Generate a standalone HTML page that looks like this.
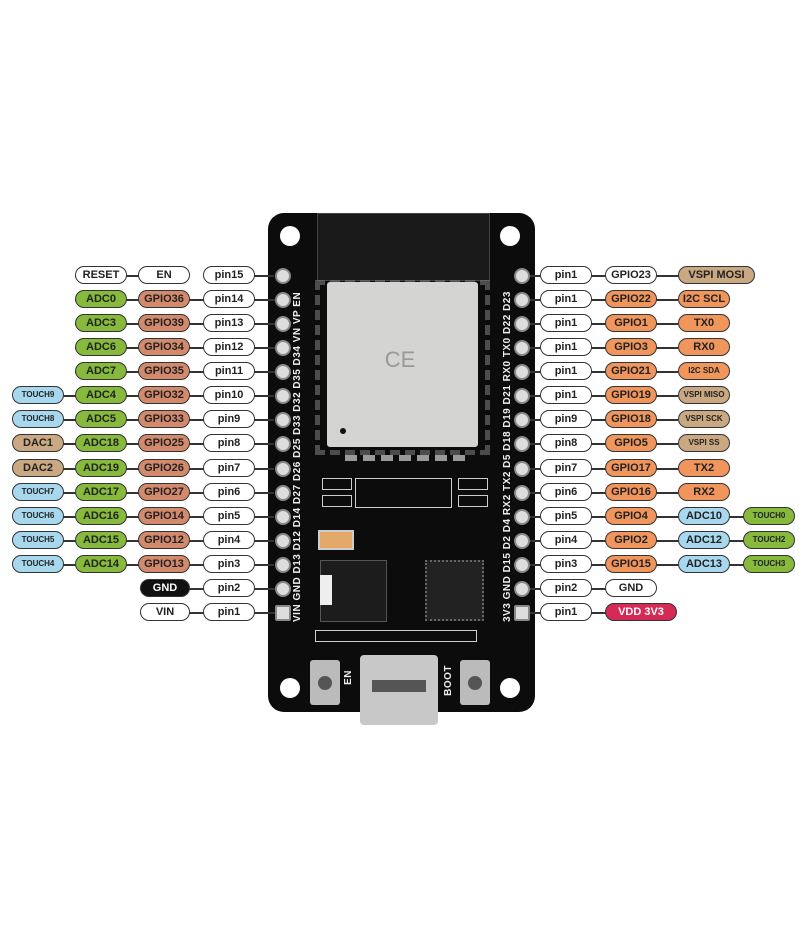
<!DOCTYPE html>
<html><head><style>
body{margin:0;width:800px;height:930px;background:#fff;position:relative;overflow:hidden;font-family:"Liberation Sans",sans-serif}
.p{position:absolute;height:16px;border:1.5px solid #333;border-radius:9px;font-size:11px;font-weight:bold;line-height:16px;text-align:center;color:#222;background:#fff;box-sizing:content-box}
.w{background:#fff}.g{background:#86b93c}.o{background:#d38a6c}.r{background:#f0955c}.t{background:#c9a882}.b{background:#a8d8ee;font-size:8px}.k{background:#111;color:#fff}.m{background:#d52a55;color:#fff}
.s{font-size:8px}
.ln{position:absolute;height:1.5px;background:#333}
.hole{position:absolute;width:20px;height:20px;border-radius:50%;background:#fff}
.pin{position:absolute;width:12px;height:12px;border-radius:50%;background:#ddd;border:2px solid #888}
.vt{position:absolute;color:#eee;font-size:10px;font-weight:bold;writing-mode:vertical-rl;transform:rotate(180deg);white-space:nowrap;letter-spacing:0.5px}
</style></head><body>
<!-- board -->
<div style="position:absolute;left:268px;top:213px;width:267px;height:499px;background:#0c0c0c;border-radius:16px"></div>
<div style="position:absolute;left:317px;top:213px;width:171px;height:66px;background:#1a1a1a;border:1px solid #444"></div>
<div style="position:absolute;left:315px;top:280px;width:175px;height:175px;border:5px dashed #777;box-sizing:border-box;opacity:.6"></div>
<div style="position:absolute;left:327px;top:282px;width:151px;height:165px;background:#d4d4d2;border-radius:3px"></div>
<div style="position:absolute;left:340px;top:428px;width:6px;height:6px;border-radius:50%;background:#111"></div>
<div style="position:absolute;left:350px;top:325px;width:100px;height:70px;color:#999;font-size:22px;text-align:center;line-height:70px">CE</div>
<div style="position:absolute;left:345px;top:455px;width:120px;height:8px;border-top:6px dashed #999"></div>
<div style="position:absolute;left:322px;top:478px;width:28px;height:10px;border:1px solid #ccc"></div>
<div style="position:absolute;left:322px;top:495px;width:28px;height:10px;border:1px solid #ccc"></div>
<div style="position:absolute;left:355px;top:478px;width:95px;height:28px;border:1px solid #ccc"></div>
<div style="position:absolute;left:458px;top:478px;width:28px;height:10px;border:1px solid #ccc"></div>
<div style="position:absolute;left:458px;top:495px;width:28px;height:10px;border:1px solid #ccc"></div>
<div style="position:absolute;left:318px;top:530px;width:32px;height:16px;background:#e4a86a;border:2px solid #ccc"></div>
<div style="position:absolute;left:320px;top:560px;width:65px;height:60px;background:#1c1c1c;border:1px solid #555"></div>
<div style="position:absolute;left:320px;top:575px;width:12px;height:30px;background:#eee"></div>
<div style="position:absolute;left:425px;top:560px;width:55px;height:57px;background:#222;border:2px dotted #666"></div>
<div style="position:absolute;left:315px;top:630px;width:160px;height:10px;border:1px solid #ccc"></div>
<div style="position:absolute;left:310px;top:660px;width:30px;height:45px;background:#bbb;border-radius:3px"></div>
<div style="position:absolute;left:318px;top:676px;width:14px;height:14px;background:#555;border-radius:50%"></div>
<div style="position:absolute;left:460px;top:660px;width:30px;height:45px;background:#bbb;border-radius:3px"></div>
<div style="position:absolute;left:468px;top:676px;width:14px;height:14px;background:#555;border-radius:50%"></div>
<div style="position:absolute;left:360px;top:655px;width:78px;height:70px;background:#c8c8c8;border-radius:4px"></div>
<div style="position:absolute;left:372px;top:680px;width:54px;height:12px;background:#555"></div>
<div class="vt" style="left:343px;top:670px">EN</div>
<div class="vt" style="left:443px;top:665px">BOOT</div>
<div class="hole" style="left:280px;top:226px"></div><div class="hole" style="left:500px;top:226px"></div>
<div class="hole" style="left:280px;top:678px"></div><div class="hole" style="left:500px;top:678px"></div>
<div class="vt" style="left:292px;top:262px;height:360px;text-align:left">VIN GND D13 D12 D14 D27 D26 D25 D33 D32 D35 D34 VN VP EN</div>
<div class="vt" style="left:502px;top:262px;height:360px;text-align:left">3V3 GND D15 D2 D4 RX2 TX2 D5 D18 D19 D21 RX0 TX0 D22 D23</div>

<!-- lines -->
<div class="ln" style="left:204px;top:275px;width:70px"></div>
<div class="ln" style="left:75px;top:275px;width:70px"></div>
<div class="ln" style="left:75px;top:299px;width:200px"></div>
<div class="ln" style="left:75px;top:323px;width:200px"></div>
<div class="ln" style="left:75px;top:347px;width:200px"></div>
<div class="ln" style="left:75px;top:371px;width:200px"></div>
<div class="ln" style="left:14px;top:395px;width:260px"></div>
<div class="ln" style="left:14px;top:419px;width:260px"></div>
<div class="ln" style="left:14px;top:443px;width:260px"></div>
<div class="ln" style="left:14px;top:468px;width:260px"></div>
<div class="ln" style="left:14px;top:492px;width:260px"></div>
<div class="ln" style="left:14px;top:516px;width:260px"></div>
<div class="ln" style="left:14px;top:540px;width:260px"></div>
<div class="ln" style="left:14px;top:564px;width:260px"></div>
<div class="ln" style="left:140px;top:588px;width:135px"></div>
<div class="ln" style="left:140px;top:612px;width:135px"></div>
<div class="ln" style="left:528px;top:275px;width:200px"></div>
<div class="ln" style="left:528px;top:299px;width:150px"></div>
<div class="ln" style="left:528px;top:323px;width:150px"></div>
<div class="ln" style="left:528px;top:347px;width:150px"></div>
<div class="ln" style="left:528px;top:371px;width:150px"></div>
<div class="ln" style="left:528px;top:395px;width:150px"></div>
<div class="ln" style="left:528px;top:419px;width:150px"></div>
<div class="ln" style="left:528px;top:443px;width:150px"></div>
<div class="ln" style="left:528px;top:468px;width:150px"></div>
<div class="ln" style="left:528px;top:492px;width:150px"></div>
<div class="ln" style="left:528px;top:516px;width:250px"></div>
<div class="ln" style="left:528px;top:540px;width:250px"></div>
<div class="ln" style="left:528px;top:564px;width:250px"></div>
<div class="ln" style="left:528px;top:588px;width:100px"></div>
<div class="ln" style="left:528px;top:612px;width:100px"></div>

<!-- header pins -->
<div class="pin" style="left:275px;top:268px"></div><div class="pin" style="left:275px;top:292px"></div><div class="pin" style="left:275px;top:316px"></div><div class="pin" style="left:275px;top:340px"></div><div class="pin" style="left:275px;top:364px"></div><div class="pin" style="left:275px;top:388px"></div><div class="pin" style="left:275px;top:412px"></div><div class="pin" style="left:275px;top:436px"></div><div class="pin" style="left:275px;top:461px"></div><div class="pin" style="left:275px;top:485px"></div><div class="pin" style="left:275px;top:509px"></div><div class="pin" style="left:275px;top:533px"></div><div class="pin" style="left:275px;top:557px"></div><div class="pin" style="left:275px;top:581px"></div><div class="pin" style="left:275px;top:605px;border-radius:2px"></div>
<div class="pin" style="left:514px;top:268px"></div><div class="pin" style="left:514px;top:292px"></div><div class="pin" style="left:514px;top:316px"></div><div class="pin" style="left:514px;top:340px"></div><div class="pin" style="left:514px;top:364px"></div><div class="pin" style="left:514px;top:388px"></div><div class="pin" style="left:514px;top:412px"></div><div class="pin" style="left:514px;top:436px"></div><div class="pin" style="left:514px;top:461px"></div><div class="pin" style="left:514px;top:485px"></div><div class="pin" style="left:514px;top:509px"></div><div class="pin" style="left:514px;top:533px"></div><div class="pin" style="left:514px;top:557px"></div><div class="pin" style="left:514px;top:581px"></div><div class="pin" style="left:514px;top:605px;border-radius:2px"></div>

<!-- left pills -->
<div class="p w" style="left:75px;top:266px;width:50px">RESET</div>
<div class="p w" style="left:138px;top:266px;width:50px">EN</div>
<div class="p w" style="left:203px;top:266px;width:50px">pin15</div>

<div class="p g" style="left:75px;top:290px;width:50px">ADC0</div><div class="p o" style="left:138px;top:290px;width:50px">GPIO36</div><div class="p w" style="left:203px;top:290px;width:50px">pin14</div>
<div class="p g" style="left:75px;top:314px;width:50px">ADC3</div><div class="p o" style="left:138px;top:314px;width:50px">GPIO39</div><div class="p w" style="left:203px;top:314px;width:50px">pin13</div>
<div class="p g" style="left:75px;top:338px;width:50px">ADC6</div><div class="p o" style="left:138px;top:338px;width:50px">GPIO34</div><div class="p w" style="left:203px;top:338px;width:50px">pin12</div>
<div class="p g" style="left:75px;top:362px;width:50px">ADC7</div><div class="p o" style="left:138px;top:362px;width:50px">GPIO35</div><div class="p w" style="left:203px;top:362px;width:50px">pin11</div>
<div class="p b" style="left:12px;top:386px;width:50px">TOUCH9</div><div class="p g" style="left:75px;top:386px;width:50px">ADC4</div><div class="p o" style="left:138px;top:386px;width:50px">GPIO32</div><div class="p w" style="left:203px;top:386px;width:50px">pin10</div>
<div class="p b" style="left:12px;top:410px;width:50px">TOUCH8</div><div class="p g" style="left:75px;top:410px;width:50px">ADC5</div><div class="p o" style="left:138px;top:410px;width:50px">GPIO33</div><div class="p w" style="left:203px;top:410px;width:50px">pin9</div>
<div class="p t" style="left:12px;top:434px;width:50px">DAC1</div><div class="p g" style="left:75px;top:434px;width:50px">ADC18</div><div class="p o" style="left:138px;top:434px;width:50px">GPIO25</div><div class="p w" style="left:203px;top:434px;width:50px">pin8</div>
<div class="p t" style="left:12px;top:459px;width:50px">DAC2</div><div class="p g" style="left:75px;top:459px;width:50px">ADC19</div><div class="p o" style="left:138px;top:459px;width:50px">GPIO26</div><div class="p w" style="left:203px;top:459px;width:50px">pin7</div>
<div class="p b" style="left:12px;top:483px;width:50px">TOUCH7</div><div class="p g" style="left:75px;top:483px;width:50px">ADC17</div><div class="p o" style="left:138px;top:483px;width:50px">GPIO27</div><div class="p w" style="left:203px;top:483px;width:50px">pin6</div>
<div class="p b" style="left:12px;top:507px;width:50px">TOUCH6</div><div class="p g" style="left:75px;top:507px;width:50px">ADC16</div><div class="p o" style="left:138px;top:507px;width:50px">GPIO14</div><div class="p w" style="left:203px;top:507px;width:50px">pin5</div>
<div class="p b" style="left:12px;top:531px;width:50px">TOUCH5</div><div class="p g" style="left:75px;top:531px;width:50px">ADC15</div><div class="p o" style="left:138px;top:531px;width:50px">GPIO12</div><div class="p w" style="left:203px;top:531px;width:50px">pin4</div>
<div class="p b" style="left:12px;top:555px;width:50px">TOUCH4</div><div class="p g" style="left:75px;top:555px;width:50px">ADC14</div><div class="p o" style="left:138px;top:555px;width:50px">GPIO13</div><div class="p w" style="left:203px;top:555px;width:50px">pin3</div>
<div class="p k" style="left:140px;top:579px;width:48px">GND</div><div class="p w" style="left:203px;top:579px;width:50px">pin2</div>
<div class="p w" style="left:140px;top:603px;width:48px">VIN</div><div class="p w" style="left:203px;top:603px;width:50px">pin1</div>

<!-- right pills -->
<div class="p w" style="left:540px;top:266px;width:50px">pin1</div><div class="p w" style="left:605px;top:266px;width:50px">GPIO23</div><div class="p t" style="left:678px;top:266px;width:75px">VSPI MOSI</div>
<div class="p w" style="left:540px;top:290px;width:50px">pin1</div><div class="p r" style="left:605px;top:290px;width:50px">GPIO22</div><div class="p r" style="left:678px;top:290px;width:50px">I2C SCL</div>
<div class="p w" style="left:540px;top:314px;width:50px">pin1</div><div class="p r" style="left:605px;top:314px;width:50px">GPIO1</div><div class="p r" style="left:678px;top:314px;width:50px">TX0</div>
<div class="p w" style="left:540px;top:338px;width:50px">pin1</div><div class="p r" style="left:605px;top:338px;width:50px">GPIO3</div><div class="p r" style="left:678px;top:338px;width:50px">RX0</div>
<div class="p w" style="left:540px;top:362px;width:50px">pin1</div><div class="p r" style="left:605px;top:362px;width:50px">GPIO21</div><div class="p r s" style="left:678px;top:362px;width:50px">I2C SDA</div>
<div class="p w" style="left:540px;top:386px;width:50px">pin1</div><div class="p r" style="left:605px;top:386px;width:50px">GPIO19</div><div class="p t s" style="left:678px;top:386px;width:50px">VSPI MISO</div>
<div class="p w" style="left:540px;top:410px;width:50px">pin9</div><div class="p r" style="left:605px;top:410px;width:50px">GPIO18</div><div class="p t s" style="left:678px;top:410px;width:50px">VSPI SCK</div>
<div class="p w" style="left:540px;top:434px;width:50px">pin8</div><div class="p r" style="left:605px;top:434px;width:50px">GPIO5</div><div class="p t s" style="left:678px;top:434px;width:50px">VSPI SS</div>
<div class="p w" style="left:540px;top:459px;width:50px">pin7</div><div class="p r" style="left:605px;top:459px;width:50px">GPIO17</div><div class="p r" style="left:678px;top:459px;width:50px">TX2</div>
<div class="p w" style="left:540px;top:483px;width:50px">pin6</div><div class="p r" style="left:605px;top:483px;width:50px">GPIO16</div><div class="p r" style="left:678px;top:483px;width:50px">RX2</div>
<div class="p w" style="left:540px;top:507px;width:50px">pin5</div><div class="p r" style="left:605px;top:507px;width:50px">GPIO4</div><div class="p b" style="left:678px;top:507px;width:50px;font-size:11px">ADC10</div><div class="p g s" style="left:743px;top:507px;width:50px">TOUCH0</div>
<div class="p w" style="left:540px;top:531px;width:50px">pin4</div><div class="p r" style="left:605px;top:531px;width:50px">GPIO2</div><div class="p b" style="left:678px;top:531px;width:50px;font-size:11px">ADC12</div><div class="p g s" style="left:743px;top:531px;width:50px">TOUCH2</div>
<div class="p w" style="left:540px;top:555px;width:50px">pin3</div><div class="p r" style="left:605px;top:555px;width:50px">GPIO15</div><div class="p b" style="left:678px;top:555px;width:50px;font-size:11px">ADC13</div><div class="p g s" style="left:743px;top:555px;width:50px">TOUCH3</div>
<div class="p w" style="left:540px;top:579px;width:50px">pin2</div><div class="p w" style="left:605px;top:579px;width:50px">GND</div>
<div class="p w" style="left:540px;top:603px;width:50px">pin1</div><div class="p m" style="left:605px;top:603px;width:70px">VDD 3V3</div>
</body></html>
